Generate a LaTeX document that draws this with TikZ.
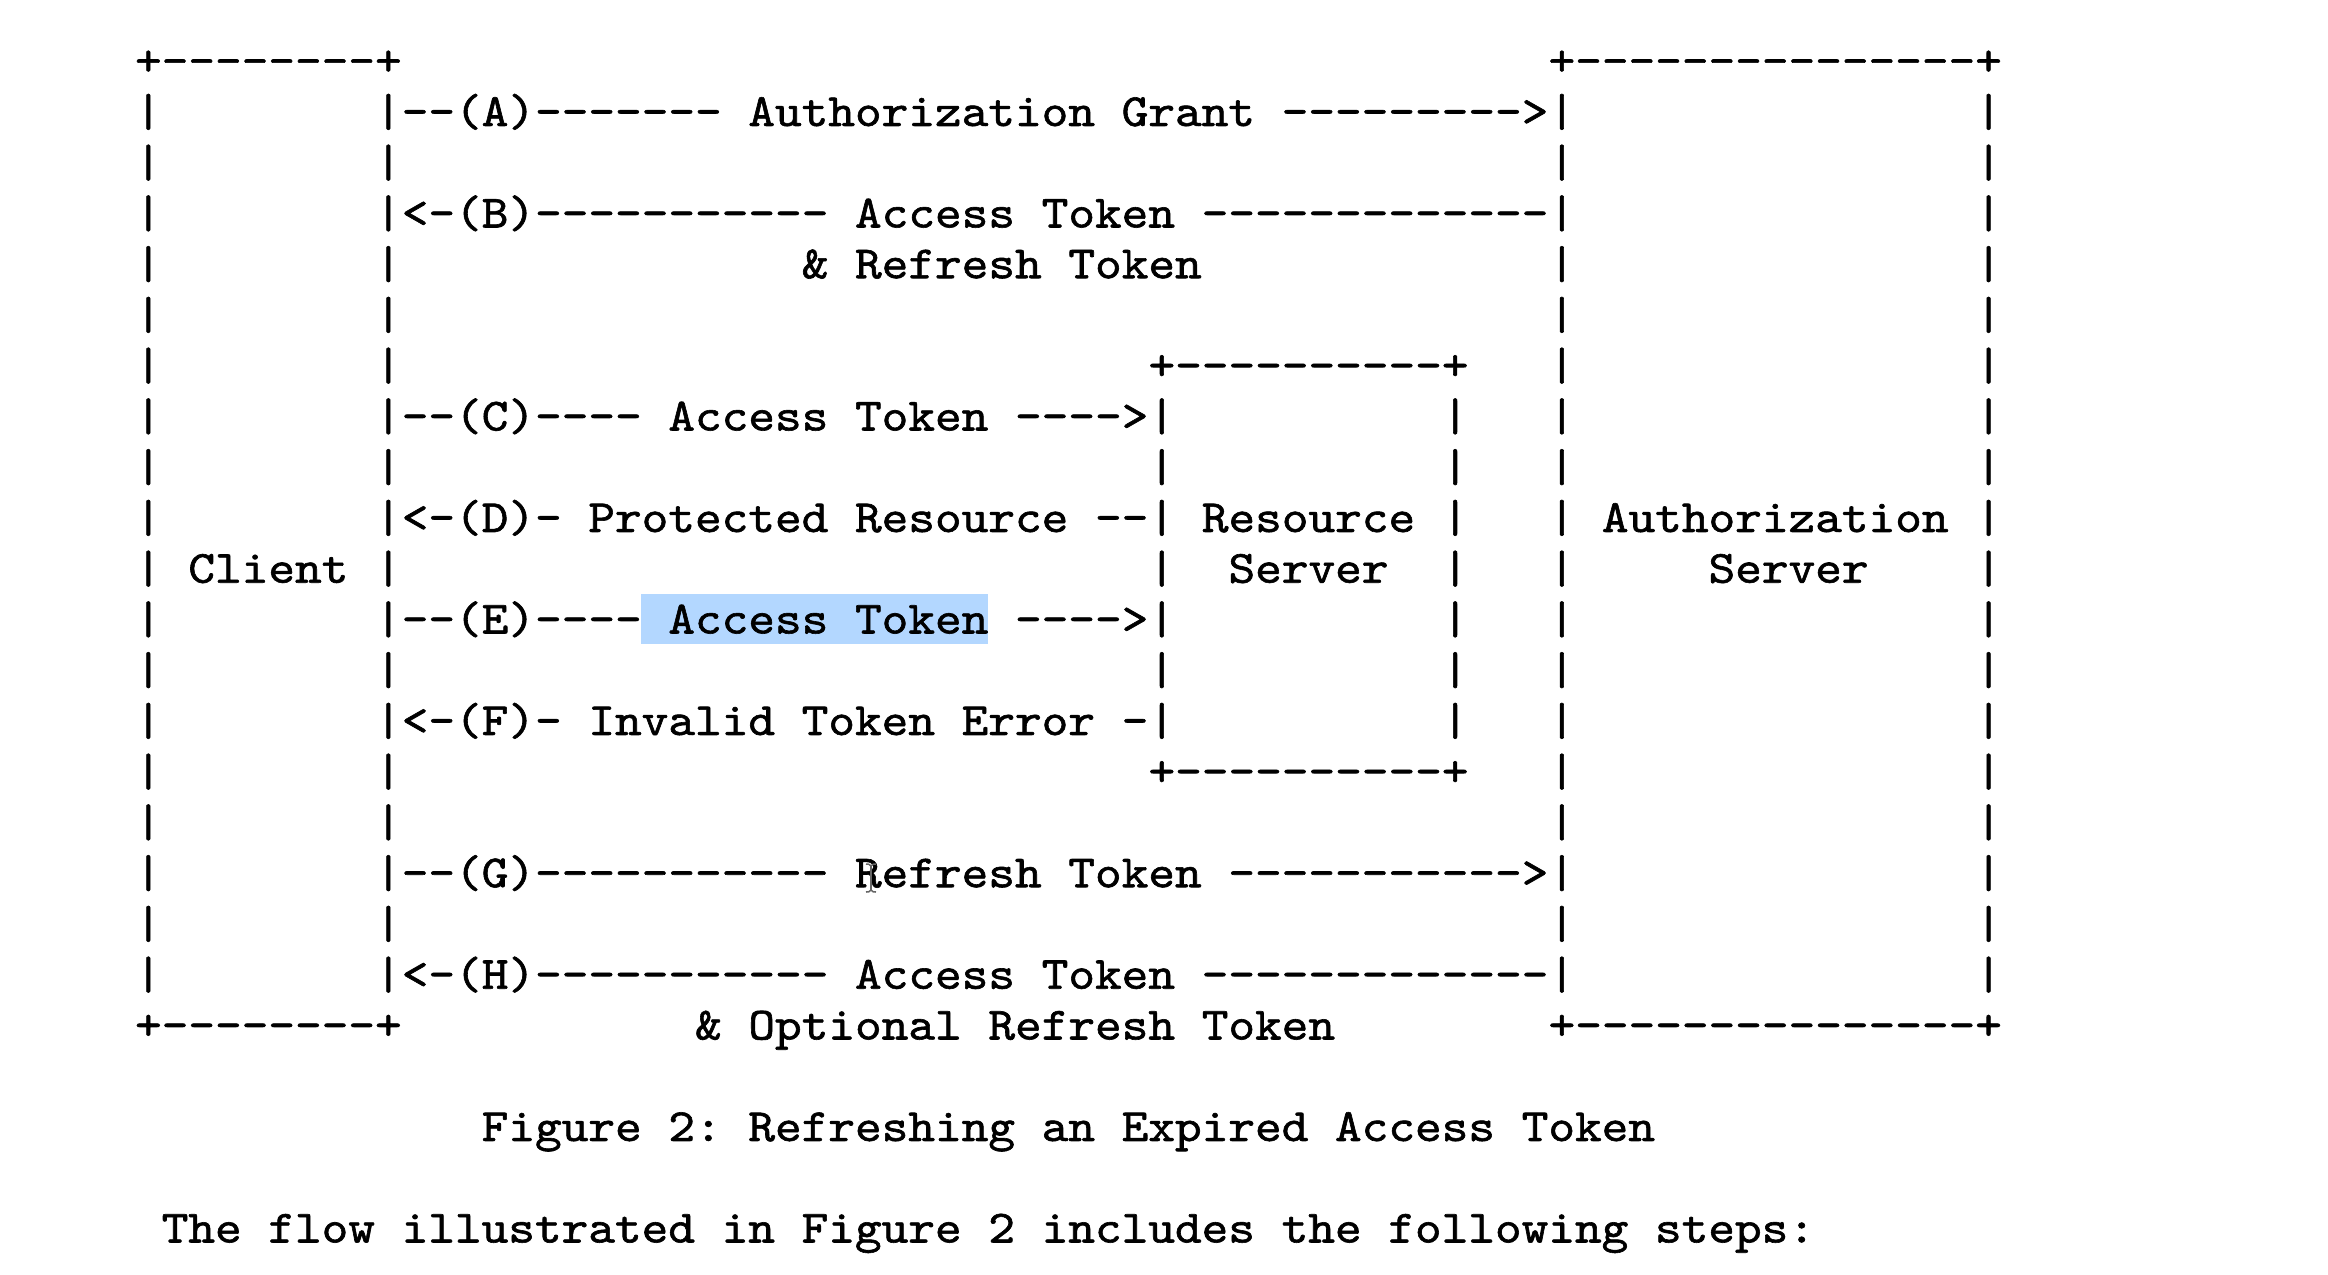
\documentclass[tikz,border=0pt]{standalone}
\usepackage{fontspec}
\newfontfamily\asciimono{lmmono10-regular}[Extension=.otf,FakeStretch=1.1,FakeBold=1.3]
\definecolor{selblue}{RGB}{179,215,255}
\begin{document}
\begin{tikzpicture}[x=0.3pt,y=-0.3pt,
  seg/.style={anchor=base west,inner sep=0pt,outer sep=0pt,
    font=\asciimono\frenchspacing\fontsize{13.853pt}{16pt}\selectfont},
  ibeam/.style={draw=black!60,line width=0.45pt}]
\newcommand\seg[4]{\node[seg] (#1) at ({81.7+#2*26.67},{75.2+#3*50.75}) {#4};}
\fill[white] (0,0) rectangle (2328,1274);
\useasboundingbox (0,0) rectangle (2328,1274);
% selection highlight behind "Access Token" of step E
\fill[selblue] (641,594) rectangle (988,644);
% client box
\seg{ctop}{2}{0}{+--------+}
\seg{cbot}{2}{19}{+--------+}
\foreach \r in {1,...,18}{\seg{cl\r}{2}{\r}{|}\seg{cr\r}{11}{\r}{|}\seg{al\r}{55}{\r}{|}\seg{ar\r}{71}{\r}{|}}
\seg{client}{4}{10}{Client}
% authorization server box
\seg{atop}{55}{0}{+---------------+}
\seg{abot}{55}{19}{+---------------+}
\seg{auth1}{57}{9}{Authorization}
\seg{auth2}{61}{10}{Server}
% resource server box
\seg{rtop}{40}{6}{+----------+}
\seg{rbot}{40}{14}{+----------+}
\foreach \r in {7,...,13}{\seg{rl\r}{40}{\r}{|}\seg{rr\r}{51}{\r}{|}}
\seg{res1}{42}{9}{Resource}
\seg{res2}{43}{10}{Server}
% messages
\seg{msgA}{12}{1}{--(A)------- Authorization Grant --------->}
\seg{msgB}{12}{3}{<-(B)----------- Access Token -------------}
\seg{msgBb}{27}{4}{\& Refresh Token}
\seg{msgC}{12}{7}{--(C)---- Access Token ---->}
\seg{msgD}{12}{9}{<-(D)- Protected Resource --}
\seg{msgE}{12}{11}{--(E)---- Access Token ---->}
\seg{msgF}{12}{13}{<-(F)- Invalid Token Error -}
\seg{msgG}{12}{16}{--(G)----------- Refresh Token ----------->}
\seg{msgH}{12}{18}{<-(H)----------- Access Token -------------}
\seg{msgHb}{23}{19}{\& Optional Refresh Token}
% caption and text
\seg{caption}{15}{21}{Figure 2: Refreshing an Expired Access Token}
\seg{body}{3}{23}{The flow illustrated in Figure 2 includes the following steps:}
% text cursor (I-beam)
\draw[ibeam] (871,866) -- (871,890);
\draw[ibeam] (866,864) .. controls (869,864) .. (871,866) .. controls (873,864) .. (876,864);
\draw[ibeam] (866,892) .. controls (869,892) .. (871,890) .. controls (873,892) .. (876,892);
\end{tikzpicture}
\end{document}
